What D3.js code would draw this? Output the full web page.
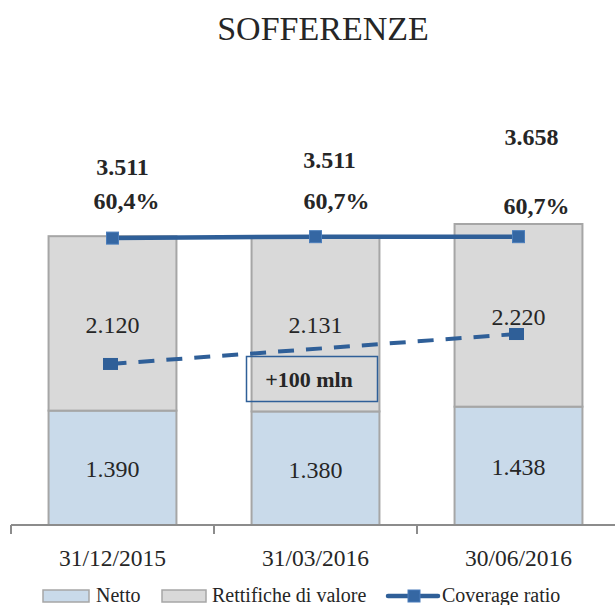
<!DOCTYPE html>
<meta charset="utf-8">
<style>
    body { margin: 0; background: #fff; }
    text { font-family: "Liberation Serif", "Times New Roman", serif; fill: #262626; }
    .bar { stroke: #a6a6a6; stroke-width: 2; }
    .bar.netto { fill: #c9daea; }
    .bar.rettifiche { fill: #d9d9d9; }
</style>
<body>
<div id="chart"></div>
<script src="https://d3js.org/d3.v7.min.js"></script>
<script>
    var categories = ['31/12/2015', '31/03/2016', '30/06/2016'];
    var netto = [1390, 1380, 1438];
    var rettifiche = [2120, 2131, 2220];
    var totals = [3511, 3511, 3658];
    var coverage = [60.4, 60.7, 60.7];
    // dashed trend between first and last date (same units as bars)
    var trend = [1957, null, 2321];
    var nettoLabels = ['1.390', '1.380', '1.438'];
    var rettificheLabels = ['2.120', '2.131', '2.220'];
    var totalLabels = ['3.511', '3.511', '3.658'];
    var coverageLabels = ['60,4%', '60,7%', '60,7%'];
    var seriesNames = ['Netto', 'Rettifiche di valore', 'Coverage ratio'];

    var width = 615, height = 605;
    var blue = '#2f5f98';

    var svg = d3.select('#chart').append('svg')
        .attr('width', width)
        .attr('height', height);

    var x = d3.scaleBand()
        .domain(categories)
        .range([11, 620])
        .paddingInner(0.37)
        .paddingOuter(0.185);

    var band = d3.scaleBand().domain(categories).range([11, 620]);

    var y = d3.scaleLinear()
        .domain([0, 3658])
        .range([525, 224]);

    var y2 = d3.scaleLinear()
        .domain([0, 100])
        .range([525, 50]);

    var cx = function (i) { return band(categories[i]) + band.bandwidth() / 2; };

    svg.append('text')
        .attr('x', 323)
        .attr('y', 40)
        .attr('text-anchor', 'middle')
        .style('font-size', '34px')
        .text('SOFFERENZE');

    var data = categories.map(function (c, i) {
        return {cat: c, netto: netto[i], rett: rettifiche[i], i: i};
    });

    svg.selectAll('.bar.netto')
        .data(data)
        .enter().append('rect')
        .attr('class', 'bar netto')
        .attr('x', function (d) { return x(d.cat); })
        .attr('width', x.bandwidth())
        .attr('y', function (d) { return y(d.netto); })
        .attr('height', function (d) { return y(0) - y(d.netto); });

    svg.selectAll('.bar.rettifiche')
        .data(data)
        .enter().append('rect')
        .attr('class', 'bar rettifiche')
        .attr('x', function (d) { return x(d.cat); })
        .attr('width', x.bandwidth())
        .attr('y', function (d) { return y(d.netto + d.rett); })
        .attr('height', function (d) { return y(d.netto) - y(d.netto + d.rett); });

    // segment labels
    svg.selectAll('.lab-netto')
        .data(data)
        .enter().append('text')
        .attr('x', function (d) { return cx(d.i); })
        .attr('y', function (d) { return (y(0) + y(d.netto)) / 2 + 1; })
        .attr('dy', '0.35em')
        .attr('text-anchor', 'middle')
        .style('font-size', '24px')
        .text(function (d) { return nettoLabels[d.i]; });

    svg.selectAll('.lab-rett')
        .data(data)
        .enter().append('text')
        .attr('x', function (d) { return cx(d.i); })
        .attr('y', function (d) { return (y(d.netto) + y(d.netto + d.rett)) / 2 + 1; })
        .attr('dy', '0.35em')
        .attr('text-anchor', 'middle')
        .style('font-size', '24px')
        .text(function (d) { return rettificheLabels[d.i]; });

    // axis
    var axis = svg.append('g').attr('class', 'x axis');
    axis.append('line')
        .attr('x1', 11).attr('x2', 615)
        .attr('y1', y(0)).attr('y2', y(0))
        .attr('stroke', '#8c8c8c').attr('stroke-width', 2);
    axis.selectAll('.tick')
        .data([0, 1, 2])
        .enter().append('line')
        .attr('x1', function (i) { return band(categories[i]); })
        .attr('x2', function (i) { return band(categories[i]); })
        .attr('y1', y(0)).attr('y2', y(0) + 9)
        .attr('stroke', '#8c8c8c').attr('stroke-width', 2);
    axis.selectAll('.cat')
        .data(categories)
        .enter().append('text')
        .attr('x', function (c, i) { return cx(i); })
        .attr('y', 558)
        .attr('dy', '0.35em')
        .attr('text-anchor', 'middle')
        .style('font-size', '23.5px')
        .text(function (c) { return c; });

    // dashed trend
    var trendPts = trend.map(function (v, i) { return {v: v, i: i}; })
        .filter(function (d) { return d.v !== null; });
    svg.append('path')
        .datum(trendPts)
        .attr('fill', 'none')
        .attr('stroke', blue)
        .attr('stroke-width', 4)
        .attr('stroke-dasharray', '16,12')
        .attr('d', d3.line()
            .x(function (d) { return cx(d.i) - 2; })
            .y(function (d) { return y(d.v); }));
    svg.selectAll('.trend-mark')
        .data(trendPts)
        .enter().append('rect')
        .attr('x', function (d) { return cx(d.i) - 2 - 7.5; })
        .attr('y', function (d) { return y(d.v) - 6; })
        .attr('width', 15).attr('height', 12)
        .attr('fill', blue);

    // annotation box
    svg.append('rect')
        .attr('x', 246.5).attr('y', 356.5)
        .attr('width', 131).attr('height', 45)
        .attr('fill', 'none')
        .attr('stroke', blue)
        .attr('stroke-width', 1.5);
    svg.append('text')
        .attr('x', 309).attr('y', 379)
        .attr('dy', '0.35em')
        .attr('text-anchor', 'middle')
        .style('font-size', '22px')
        .style('font-weight', 'bold')
        .text('+100 mln');

    // coverage ratio line
    svg.append('path')
        .datum(coverage)
        .attr('fill', 'none')
        .attr('stroke', blue)
        .attr('stroke-width', 4.5)
        .attr('d', d3.line()
            .x(function (d, i) { return cx(i); })
            .y(function (d) { return y2(d); }));
    svg.selectAll('.cov-mark')
        .data(coverage)
        .enter().append('rect')
        .attr('x', function (d, i) { return cx(i) - 6; })
        .attr('y', function (d) { return y2(d) - 6; })
        .attr('width', 12).attr('height', 12)
        .attr('fill', '#3567a3')
        .attr('stroke', '#4a7dbb')
        .attr('stroke-width', 1);

    // top labels
    var totalOffsets = [[10, -69], [14, -76], [13, -87]];
    var covOffsets = [[14, -38], [21, -36], [18, -31]];
    svg.selectAll('.lab-total')
        .data(totals)
        .enter().append('text')
        .attr('x', function (d, i) { return cx(i) + totalOffsets[i][0]; })
        .attr('y', function (d, i) { return y(d) + totalOffsets[i][1]; })
        .attr('dy', '0.35em')
        .attr('text-anchor', 'middle')
        .style('font-size', '24px')
        .style('font-weight', 'bold')
        .text(function (d, i) { return totalLabels[i]; });
    svg.selectAll('.lab-cov')
        .data(coverage)
        .enter().append('text')
        .attr('x', function (d, i) { return cx(i) + covOffsets[i][0]; })
        .attr('y', function (d, i) { return y2(d) + covOffsets[i][1]; })
        .attr('dy', '0.35em')
        .attr('text-anchor', 'middle')
        .style('font-size', '24px')
        .style('font-weight', 'bold')
        .text(function (d, i) { return coverageLabels[i]; });

    // legend
    var legend = svg.append('g').attr('class', 'legend');
    var lx = [43, 162, 388];
    legend.append('rect')
        .attr('x', lx[0]).attr('y', 590).attr('width', 46).attr('height', 12)
        .attr('fill', '#c9daea').attr('stroke', '#a6a6a6').attr('stroke-width', 1.5);
    legend.append('rect')
        .attr('x', lx[1]).attr('y', 590).attr('width', 44).attr('height', 12)
        .attr('fill', '#d9d9d9').attr('stroke', '#a6a6a6').attr('stroke-width', 1.5);
    legend.append('line')
        .attr('x1', lx[2]).attr('x2', lx[2] + 50)
        .attr('y1', 596).attr('y2', 596)
        .attr('stroke', blue).attr('stroke-width', 4.5)
        .attr('stroke-linecap', 'round');
    legend.append('rect')
        .attr('x', lx[2] + 20).attr('y', 590).attr('width', 12).attr('height', 12)
        .attr('fill', '#3567a3').attr('stroke', '#4a7dbb');
    var ltx = [96, 212, 442];
    legend.selectAll('.ltext')
        .data(seriesNames)
        .enter().append('text')
        .attr('x', function (d, i) { return ltx[i]; })
        .attr('y', 602)
        .style('font-size', '20px')
        .text(function (d) { return d; });
</script>
</body>
